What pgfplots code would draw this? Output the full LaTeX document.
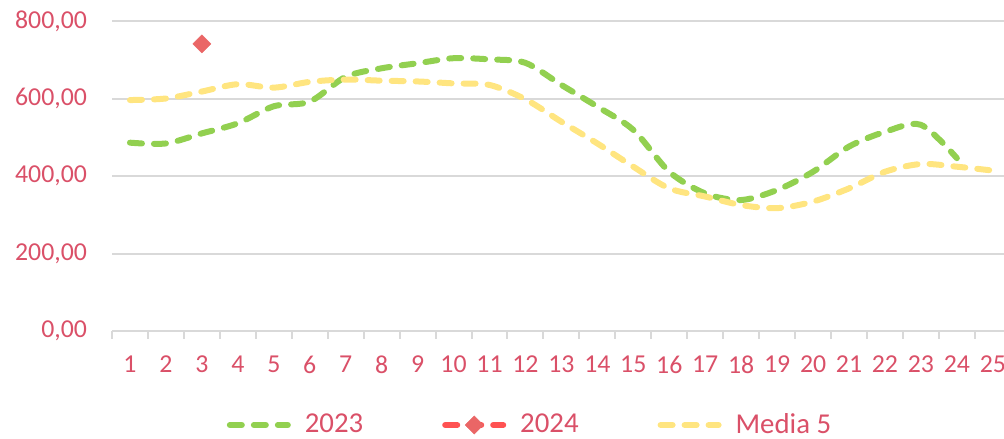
\documentclass[border=0pt]{standalone}
\usepackage{fontspec}
\setmainfont{Carlito}
\usepackage{pgfplots}
\pgfplotsset{compat=1.18}
\definecolor{txt}{RGB}{218,80,104}
\definecolor{gr}{RGB}{146,208,80}
\definecolor{ye}{RGB}{255,229,128}
\definecolor{rd}{RGB}{255,82,82}
\definecolor{rdm}{RGB}{234,102,102}
\definecolor{gridc}{RGB}{217,217,217}
\begin{document}
\begin{tikzpicture}
\begin{axis}[
  at={(56pt,53.5pt)}, anchor=south west,
  scale only axis,
  width=449.4pt, height=155pt,
  xmin=0.5, xmax=25.5, ymin=0, ymax=800,
  xtick={1,...,25},
  minor xtick={0.5,1.5,...,25.5},
  ytick={0,200,400,600,800},
  major tick length=0pt,
  minor tick length=4pt,
  tick align=outside,
  axis x line*=bottom, axis y line*=left,
  x axis line style={gridc, line width=1pt, -},
  y axis line style={draw=none},
  minor x tick style={gridc, line width=1pt},
  ymajorgrids,
  major grid style={gridc, line width=1pt},
  tick label style={font=\fontsize{12.9}{15}\selectfont, text=txt},
  /pgf/number format/assume math mode=true,
  yticklabel style={/pgf/number format/fixed, /pgf/number format/fixed zerofill, /pgf/number format/precision=2, /pgf/number format/use comma, /pgf/number format/1000 sep={}, xshift=-9pt},
  xticklabel style={yshift=-9pt},
  legend columns=3,
  legend style={at={(axis description cs:0.4662,-0.3032)}, anchor=center, draw=none, fill=none,
    font=\fontsize{14.4}{17}\selectfont, text=txt,
    /tikz/every even column/.append style={column sep=37.5pt}},
  legend image code/.code={\draw[#1, mark repeat=2, mark phase=2] plot coordinates {(1.5pt,0pt) (16pt,0pt) (30.5pt,0pt)}; \path (35.5pt,0pt);},
]
\addplot[gr, line width=3pt, line cap=round, dash pattern=on 6pt off 6pt, smooth, tension=0.5] coordinates {
(1,486) (2,484) (3,510) (4,536) (5,580) (6,592) (7,656) (8,678) (9,691) (10,704) (11,701) (12,692)
(13,635) (14,579) (15,519) (16,411) (17,355) (18,338) (19,364) (20,411) (21,476) (22,514) (23,532) (24,446)};
\addlegendentry{2023}
\addplot[rd, line width=3pt, line cap=round, dash pattern=on 6pt off 6pt, mark=square*, mark size=3.2pt, mark options={solid, rotate=45, fill=rdm, draw=rdm, line width=0.2pt}] coordinates {(3,741)};
\addlegendentry{2024}
\addplot[ye, line width=3pt, line cap=round, dash pattern=on 6pt off 6pt, smooth, tension=0.5] coordinates {
(1,596) (2,600) (3,618) (4,637) (5,628) (6,643) (7,649) (8,646) (9,644) (10,639) (11,635) (12,598)
(13,540) (14,484) (15,424) (16,368) (17,347) (18,325) (19,317) (20,334) (21,368) (22,411) (23,431) (24,424) (25,414)};
\addlegendentry{Media 5}
\end{axis}
\pgfresetboundingbox
\useasboundingbox (0,0) rectangle (502pt,219pt);
\end{tikzpicture}
\end{document}
